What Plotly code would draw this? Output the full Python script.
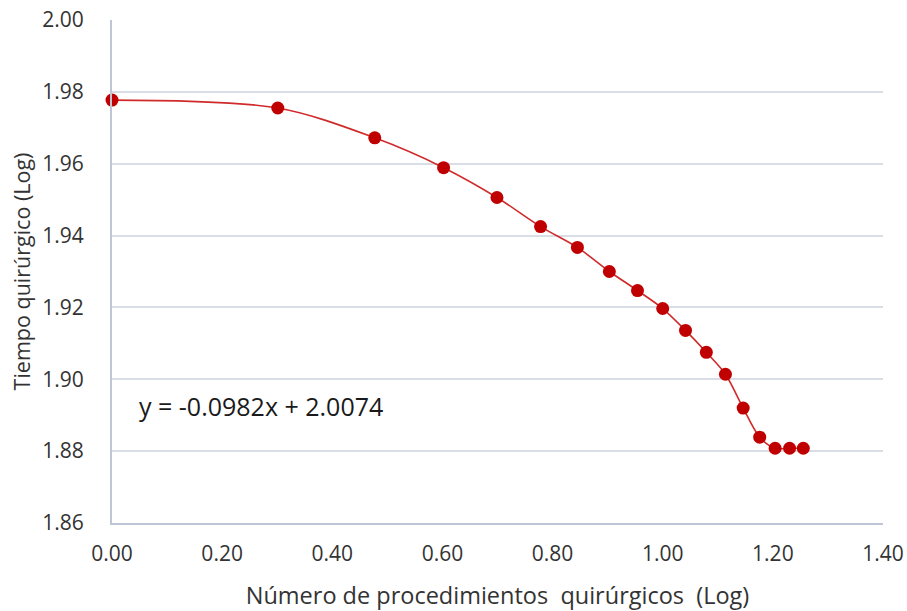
import numpy as np
import plotly.graph_objects as go

# Data: log10(number of procedures) vs log10(surgical time)
x_vals = [0.0000, 0.3010, 0.4771, 0.6021, 0.6990, 0.7782, 0.8451, 0.9031, 0.9542,
          1.0000, 1.0414, 1.0792, 1.1139, 1.1461, 1.1761, 1.2041, 1.2304, 1.2553]
y_vals = [1.9777, 1.9755, 1.9672, 1.9589, 1.9506, 1.9425, 1.9367, 1.9300, 1.9247,
          1.9197, 1.9136, 1.9075, 1.9014, 1.8920, 1.8839, 1.8808, 1.8808, 1.8808]

x_ticks = [0.0, 0.2, 0.4, 0.6, 0.8, 1.0, 1.2, 1.4]
y_ticks = [1.86, 1.88, 1.90, 1.92, 1.94, 1.96, 1.98, 2.00]

equation_text = "y = -0.0982x + 2.0074"
x_title = "Número de procedimientos\u00a0 quirúrgicos\u00a0 (Log)"
y_title = "Tiempo quirúrgico (Log)"

FONT = "Open Sans"
TXT = "#333333"
GRID = "#D9DEE6"
AXIS = "#BFC6D3"

fig = go.Figure()
fig.add_trace(go.Scatter(
    x=x_vals, y=y_vals, mode="lines+markers",
    line=dict(color="#D02A2A", width=1.6, shape="spline", smoothing=0.9),
    marker=dict(color="#C00000", size=13, line=dict(width=0)),
    cliponaxis=False,
    showlegend=False,
))

fig.add_annotation(
    x=0.045, y=1.8925, xref="x", yref="y", text=equation_text,
    showarrow=False, xanchor="left", yanchor="middle",
    font=dict(family=FONT, size=25, color="#1a1a1a"),
)

fig.update_layout(
    width=907, height=611,
    margin=dict(l=112, r=24, t=20, b=88, autoexpand=False),
    paper_bgcolor="white", plot_bgcolor="white",
    font=dict(family=FONT, color=TXT),
)
fig.update_xaxes(
    range=[0, 1.4], tickvals=x_ticks, ticktext=[f"{v:.2f}" for v in x_ticks],
    showgrid=False, zeroline=False, automargin=False,
    showline=True, linecolor=AXIS, linewidth=2,
    ticks="outside", ticklen=11, tickcolor="rgba(0,0,0,0)",
    tickfont=dict(family=FONT, size=21, color=TXT),
    title=dict(text=x_title, font=dict(family=FONT, size=23.5, color=TXT), standoff=22),
)
fig.update_yaxes(
    range=[1.86, 2.00], tickvals=y_ticks, ticktext=[f"{v:.2f}" for v in y_ticks],
    showgrid=True, gridcolor=GRID, gridwidth=1.5, zeroline=False, automargin=False,
    showline=True, linecolor=AXIS, linewidth=2,
    ticks="outside", ticklen=22, tickcolor="rgba(0,0,0,0)",
    tickfont=dict(family=FONT, size=21, color=TXT),
    title=dict(text=y_title, font=dict(family=FONT, size=21.5, color=TXT), standoff=6),
)

fig.write_html("out.html")
